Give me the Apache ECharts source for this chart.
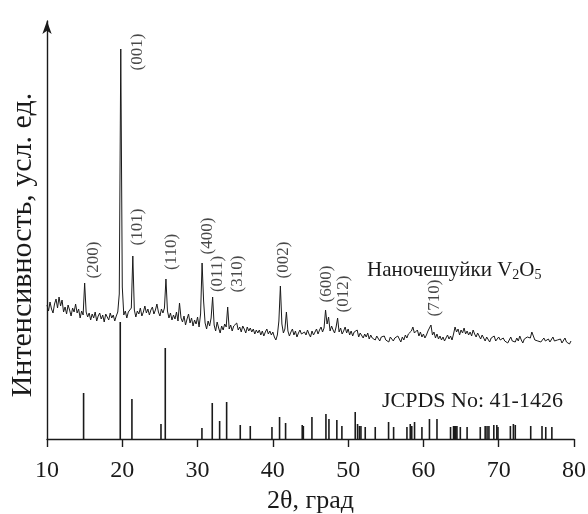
<!DOCTYPE html>
<html>
<head>
<meta charset="utf-8">
<script src="https://cdn.jsdelivr.net/npm/echarts@6/dist/echarts.min.js"></script>
<style>
  html, body { margin: 0; padding: 0; background: #fff; }
  #chart { width: 588px; height: 514px; }
</style>
</head>
<body>
<div id="chart"></div>
<script>
// measured trace, 2θ from 10.0 in 0.2 steps
const traceStart = 10
const traceStep = 0.2
const traceValues = [
  134, 128, 137, 130, 126, 135, 140, 131, 142, 133, // 10
  139, 127, 132, 125, 134, 129, 123, 131, 127, 135, // 12
  126, 130, 121, 128, 124, 156, 127, 122, 126, 119, // 14
  125, 121, 127, 118, 123, 126, 120, 124, 117, 125, // 16
  122, 119, 126, 121, 124, 118, 123, 127, 145, 390, // 18
  152, 124, 128, 121, 127, 125, 131, 183, 129, 122, // 20
  128, 125, 131, 123, 127, 133, 126, 130, 124, 129, // 22
  132, 125, 129, 135, 127, 123, 130, 126, 131, 160, // 24
  128, 121, 126, 119, 124, 120, 127, 118, 136, 121, // 26
  117, 123, 114, 120, 125, 116, 121, 113, 119, 115, // 28
  122, 112, 125, 176, 138, 116, 110, 118, 113, 121, // 30
  142, 114, 108, 117, 111, 106, 113, 109, 115, 112, // 32
  132, 110, 114, 108, 113, 111, 116, 109, 112, 107, // 34
  113, 110, 106, 112, 108, 111, 107, 110, 105, 109, // 36
  106, 109, 104, 108, 103, 107, 110, 105, 108, 104, // 38
  107, 102, 99, 104, 118, 153, 115, 106, 110, 127,  // 40
  108, 103, 107, 110, 104, 108, 102, 106, 109, 105, // 42
  103, 107, 104, 109, 105, 102, 108, 104, 106, 110, // 44
  105, 109, 112, 107, 111, 129, 115, 122, 108, 113, // 46
  109, 106, 112, 121, 107, 111, 105, 108, 112, 106, // 48
  110, 104, 108, 103, 107, 105, 109, 102, 106, 104, // 50
  101, 105, 102, 106, 100, 104, 101, 103, 99, 103,  // 52
  101, 98, 102, 100, 103, 99, 101, 97, 102, 100,    // 54
  98, 101, 99, 103, 100, 97, 102, 99, 104, 101,     // 56
  105, 103, 108, 112, 106, 104, 109, 103, 107, 102, // 58
  105, 101, 104, 108, 106, 114, 104, 107, 101, 105, // 60
  100, 103, 99, 102, 98, 101, 104, 100, 103, 99,    // 62
  105, 112, 107, 110, 104, 109, 106, 111, 105, 108, // 64
  104, 107, 103, 109, 105, 102, 106, 103, 100, 104, // 66
  101, 98, 102, 100, 97, 101, 99, 103, 98, 100,     // 68
  102, 99, 97, 101, 98, 100, 96, 99, 102, 98,       // 70
  100, 97, 101, 98, 103, 99, 96, 100, 98, 102,      // 72
  104, 101, 107, 103, 99, 101, 98, 100, 97, 99,     // 74
  101, 98, 96, 100, 97, 99, 102, 98, 96, 99,        // 76
  97, 100, 96, 98, 101, 97, 99, 95, 98              // 78
]

// JCPDS 41-1426 reference lines
const stickAngles = [
  14.86, 19.73, 21.28, 25.14, 25.71, 30.58, 31.95, 32.93, 33.86, 35.67,
  37.0, 39.88, 40.89, 41.69, 43.9, 44.05, 45.19, 47.05, 47.45, 48.5,
  49.17, 50.94, 51.25, 51.5, 51.7, 52.27, 53.6, 55.37, 56.04, 57.81,
  58.25, 58.45, 58.82, 59.8, 60.8, 61.8, 63.6, 64.0, 64.15, 64.3,
  64.45, 64.9, 65.8, 67.55, 68.2, 68.45, 68.7, 69.35, 69.75, 69.9,
  71.55, 71.95, 72.2, 74.25, 75.75, 76.25, 77.06
]
const stickHeights = [
  46, 117, 40, 15, 91, 11, 36, 18, 37, 14,
  13, 12, 22, 16, 14, 13, 22, 25, 20, 19,
  13, 27, 15, 13, 13, 12, 12, 17, 12, 12,
  15, 13, 17, 12, 20, 20, 12, 13, 13, 13,
  13, 12, 12, 12, 13, 13, 13, 14, 14, 12,
  13, 15, 14, 13, 13, 12, 12
]

// hkl labels and where they sit
const hklNames = ['(200)', '(001)', '(101)', '(110)', '(400)', '(011)', '(310)', '(002)', '(600)', '(012)', '(710)']
const hklAngles = [16.15, 22.0, 22.0, 26.6, 31.3, 32.6, 35.3, 41.4, 47.1, 49.4, 61.5]
const hklLevels = [179, 387, 212, 187, 203, 165, 165, 179, 155, 145, 141]

const xTicks = { min: 10, max: 80, interval: 10 }

const font = "'Liberation Serif', 'Times New Roman', serif"
const ink = '#1a1a1a'

const traceData = traceValues.map((v, i) => [+(traceStart + i * traceStep).toFixed(1), v])
const stickData = stickAngles.map((a, i) => [a, stickHeights[i]])
const hklData = hklNames.map((n, i) => ({ name: n, value: [hklAngles[i], hklLevels[i]] }))

const chart = echarts.init(document.getElementById('chart'), null, { renderer: 'canvas' })

chart.setOption({
  backgroundColor: '#fff',
  animation: false,
  grid: { left: 47, right: 14, top: 21, bottom: 75, outerBoundsMode: 'none', containLabel: false },
  xAxis: {
    type: 'value',
    min: xTicks.min,
    max: xTicks.max,
    interval: xTicks.interval,
    name: '2θ, град',
    nameLocation: 'middle',
    nameGap: 47,
    nameTextStyle: { color: ink, fontFamily: font, fontSize: 26 },
    axisLine: { lineStyle: { color: ink, width: 1.4 } },
    axisTick: { inside: false, length: 8, lineStyle: { color: ink, width: 1.4 } },
    axisLabel: { color: ink, fontFamily: font, fontSize: 24, margin: 20 },
    splitLine: { show: false }
  },
  yAxis: {
    type: 'value',
    min: 0,
    max: 418,
    axisLine: {
      show: true,
      symbol: ['none', 'arrow'],
      symbolSize: [7, 13],
      lineStyle: { color: ink, width: 1.4 }
    },
    axisTick: { show: false },
    axisLabel: { show: false },
    splitLine: { show: false }
  },
  series: [
    {
      type: 'bar',
      data: stickData,
      barWidth: 1.6,
      itemStyle: { color: ink },
      silent: true
    },
    {
      type: 'line',
      data: traceData,
      showSymbol: false,
      lineStyle: { color: ink, width: 1 },
      silent: true
    },
    {
      type: 'scatter',
      data: hklData,
      symbolSize: 0,
      label: {
        show: true,
        position: 'inside',
        rotate: 90,
        formatter: '{b}',
        color: ink,
        fontFamily: font,
        fontSize: 17
      },
      silent: true
    }
  ],
  graphic: [
    {
      type: 'text',
      x: 23, y: 245,
      rotation: Math.PI / 2,
      style: {
        text: 'Интенсивность, усл. ед.',
        fill: ink,
        font: '30px ' + font,
        textAlign: 'center',
        textVerticalAlign: 'middle'
      }
    },
    {
      type: 'text',
      x: 367, y: 270,
      style: {
        text: 'Наночешуйки V{s|2}O{s|5}',
        fill: ink,
        font: '21px ' + font,
        textVerticalAlign: 'middle',
        rich: {
          s: { fontSize: 14, fontFamily: font, fill: ink, padding: [11, 0, 0, 0] }
        }
      }
    },
    {
      type: 'text',
      x: 382, y: 401,
      style: {
        text: 'JCPDS No: 41-1426',
        fill: ink,
        font: '22px ' + font,
        textVerticalAlign: 'middle'
      }
    }
  ]
})
</script>
</body>
</html>
